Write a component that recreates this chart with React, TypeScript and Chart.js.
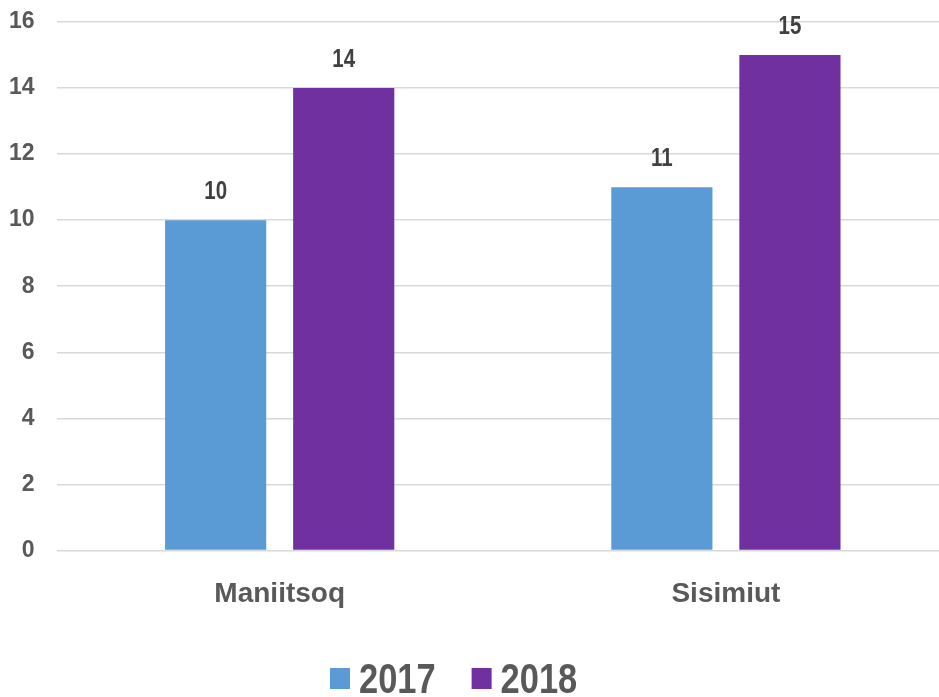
import React, { useEffect, useRef } from "react";
import { Chart, registerables } from "chart.js";

Chart.register(...registerables);

const categories = ["Maniitsoq", "Sisimiut"];
const seriesNames = ["2017", "2018"];
const values2017 = [10, 11];
const values2018 = [14, 15];
const seriesColors = ["#5B9BD5", "#7030A0"];
const yMin = 0;
const yMax = 16;
const yStep = 2;

const FONT = '"Liberation Sans", Arial, sans-serif';
const SQUEEZE = 0.82;

const valueLabels = {
  id: "valueLabels",
  afterDatasetsDraw(chart: any) {
    const ctx = chart.ctx;
    ctx.save();
    ctx.font = `bold 25px ${FONT}`;
    ctx.fillStyle = "#404040";
    ctx.textAlign = "center";
    ctx.textBaseline = "middle";
    chart.data.datasets.forEach((ds: any, i: number) => {
      const meta = chart.getDatasetMeta(i);
      meta.data.forEach((el: any, j: number) => {
        ctx.save();
        ctx.translate(el.x, el.y - 28);
        ctx.scale(SQUEEZE, 1);
        ctx.fillText(String(ds.data[j]), 0, 0);
        ctx.restore();
      });
    });
    ctx.restore();
  },
};

const customLegend = {
  id: "customLegend",
  afterDraw(chart: any) {
    const ctx = chart.ctx;
    ctx.save();
    ctx.font = `bold 42px ${FONT}`;
    ctx.textBaseline = "alphabetic";
    ctx.textAlign = "left";
    let x = 330;
    chart.data.datasets.forEach((ds: any) => {
      ctx.fillStyle = ds.backgroundColor;
      ctx.fillRect(x, 668, 20, 21);
      ctx.fillStyle = "#595959";
      ctx.save();
      ctx.translate(x + 29, 693);
      ctx.scale(SQUEEZE, 1);
      ctx.fillText(ds.label, 0, 0);
      ctx.restore();
      x += 29 + ctx.measureText(ds.label).width * SQUEEZE + 36;
    });
    ctx.restore();
  },
};

export default function App() {
  const canvasRef = useRef<HTMLCanvasElement | null>(null);

  useEffect(() => {
    if (!canvasRef.current) return;
    const chart = new Chart(canvasRef.current, {
      type: "bar",
      data: {
        labels: categories,
        datasets: [
          {
            label: seriesNames[0],
            data: values2017,
            backgroundColor: seriesColors[0],
            categoryPercentage: 0.574,
            barPercentage: 0.79,
          },
          {
            label: seriesNames[1],
            data: values2018,
            backgroundColor: seriesColors[1],
            categoryPercentage: 0.574,
            barPercentage: 0.79,
          },
        ],
      },
      options: {
        animation: false,
        responsive: true,
        maintainAspectRatio: false,
        layout: { padding: { top: 22, left: -13, right: 0, bottom: 67 } },
        plugins: {
          legend: { display: false },
          tooltip: { enabled: false },
        },
        scales: {
          x: {
            grid: { display: false },
            border: { display: false },
            ticks: {
              color: "#595959",
              font: { family: FONT, size: 28, weight: "bold" },
              padding: 19,
            },
          },
          y: {
            min: yMin,
            max: yMax,
            border: { display: false },
            grid: { color: "#d9d9d9", lineWidth: 1.5, drawTicks: false },
            ticks: {
              stepSize: yStep,
              color: "#595959",
              font: { family: FONT, size: 23, weight: "bold" },
              padding: 22,
            },
            afterFit(scale: any) {
              scale.paddingTop = 0;
              scale.paddingBottom = 0;
            },
          },
        },
      },
      plugins: [valueLabels, customLegend],
    });
    return () => chart.destroy();
  }, []);

  return (
    <div
      style={{
        position: "fixed",
        left: 0,
        top: 0,
        width: 949,
        height: 697,
        background: "#ffffff",
      }}
    >
      <canvas ref={canvasRef} />
    </div>
  );
}
